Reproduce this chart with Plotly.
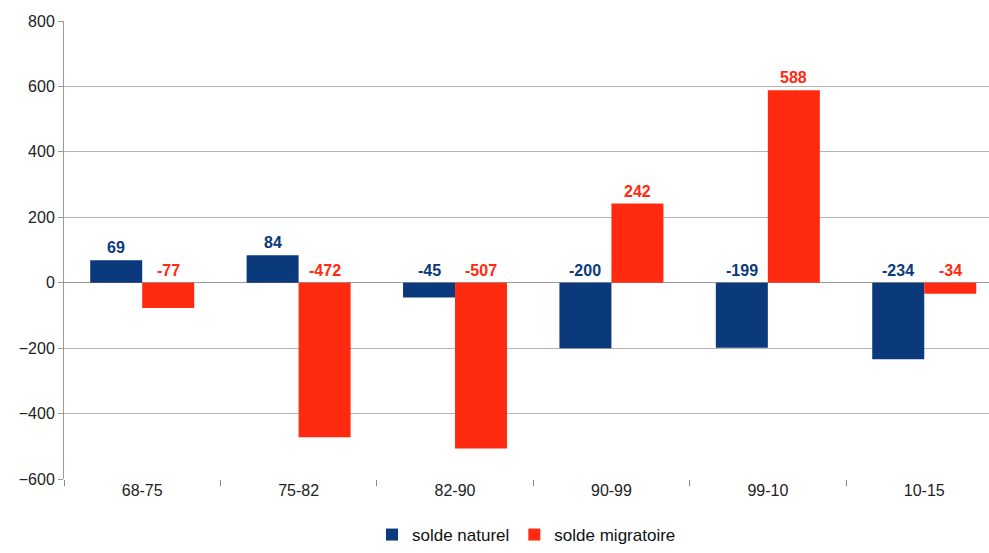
import plotly.graph_objects as go

periods = ["68-75", "75-82", "82-90", "90-99", "99-10", "10-15"]
solde_naturel = [69, 84, -45, -200, -199, -234]
solde_migratoire = [-77, -472, -507, 242, 588, -34]

BLUE = "#0b3a7c"
RED = "#ff2a10"
FONT = "Liberation Sans, Arial, sans-serif"
BARGAP = 0.335

fig = go.Figure()
fig.add_trace(go.Bar(x=periods, y=solde_naturel, name="solde naturel",
                     marker=dict(color=BLUE, line=dict(width=0))))
fig.add_trace(go.Bar(x=periods, y=solde_migratoire, name="solde migratoire",
                     marker=dict(color=RED, line=dict(width=0))))

# value labels: above the bar top for positives, just above zero for negatives
half = (1 - BARGAP) / 4
for series, color, side in ((solde_naturel, BLUE, -1), (solde_migratoire, RED, 1)):
    for i, v in enumerate(series):
        fig.add_annotation(x=i + side * half, y=max(v, 0), text=f"<b>{v}</b>",
                           showarrow=False, yanchor="bottom", yshift=2,
                           font=dict(family=FONT, size=16, color=color))

fig.update_layout(
    width=989, height=553,
    margin=dict(l=64, r=0, t=21, b=74, autoexpand=False),
    paper_bgcolor="white", plot_bgcolor="white",
    barmode="group", bargap=BARGAP, bargroupgap=0,
    font=dict(family=FONT, size=16, color="#222222"),
    showlegend=True,
    legend=dict(orientation="h", x=0.5, xanchor="center",
                yref="container", y=0, yanchor="bottom",
                font=dict(size=17, color="#111111"), itemwidth=30,
                traceorder="normal", tracegroupgap=0),
)
fig.update_xaxes(type="category", range=[-0.5, 5.414], showgrid=False,
                 ticks="outside", tickson="boundaries", ticklen=6,
                 tickcolor="#888888", showline=False, zeroline=False,
                 tickfont=dict(size=16, color="#222222"))
fig.update_yaxes(range=[-600, 800], dtick=200, showgrid=True,
                 gridcolor="#b3b3b3", gridwidth=1, zeroline=True,
                 zerolinecolor="#9a9a9a", zerolinewidth=1,
                 showline=True, linecolor="#9a9a9a", linewidth=1,
                 ticks="outside", ticklen=5, tickcolor="#9a9a9a",
                 tickfont=dict(size=16, color="#222222"))

fig.write_html("out.html")
